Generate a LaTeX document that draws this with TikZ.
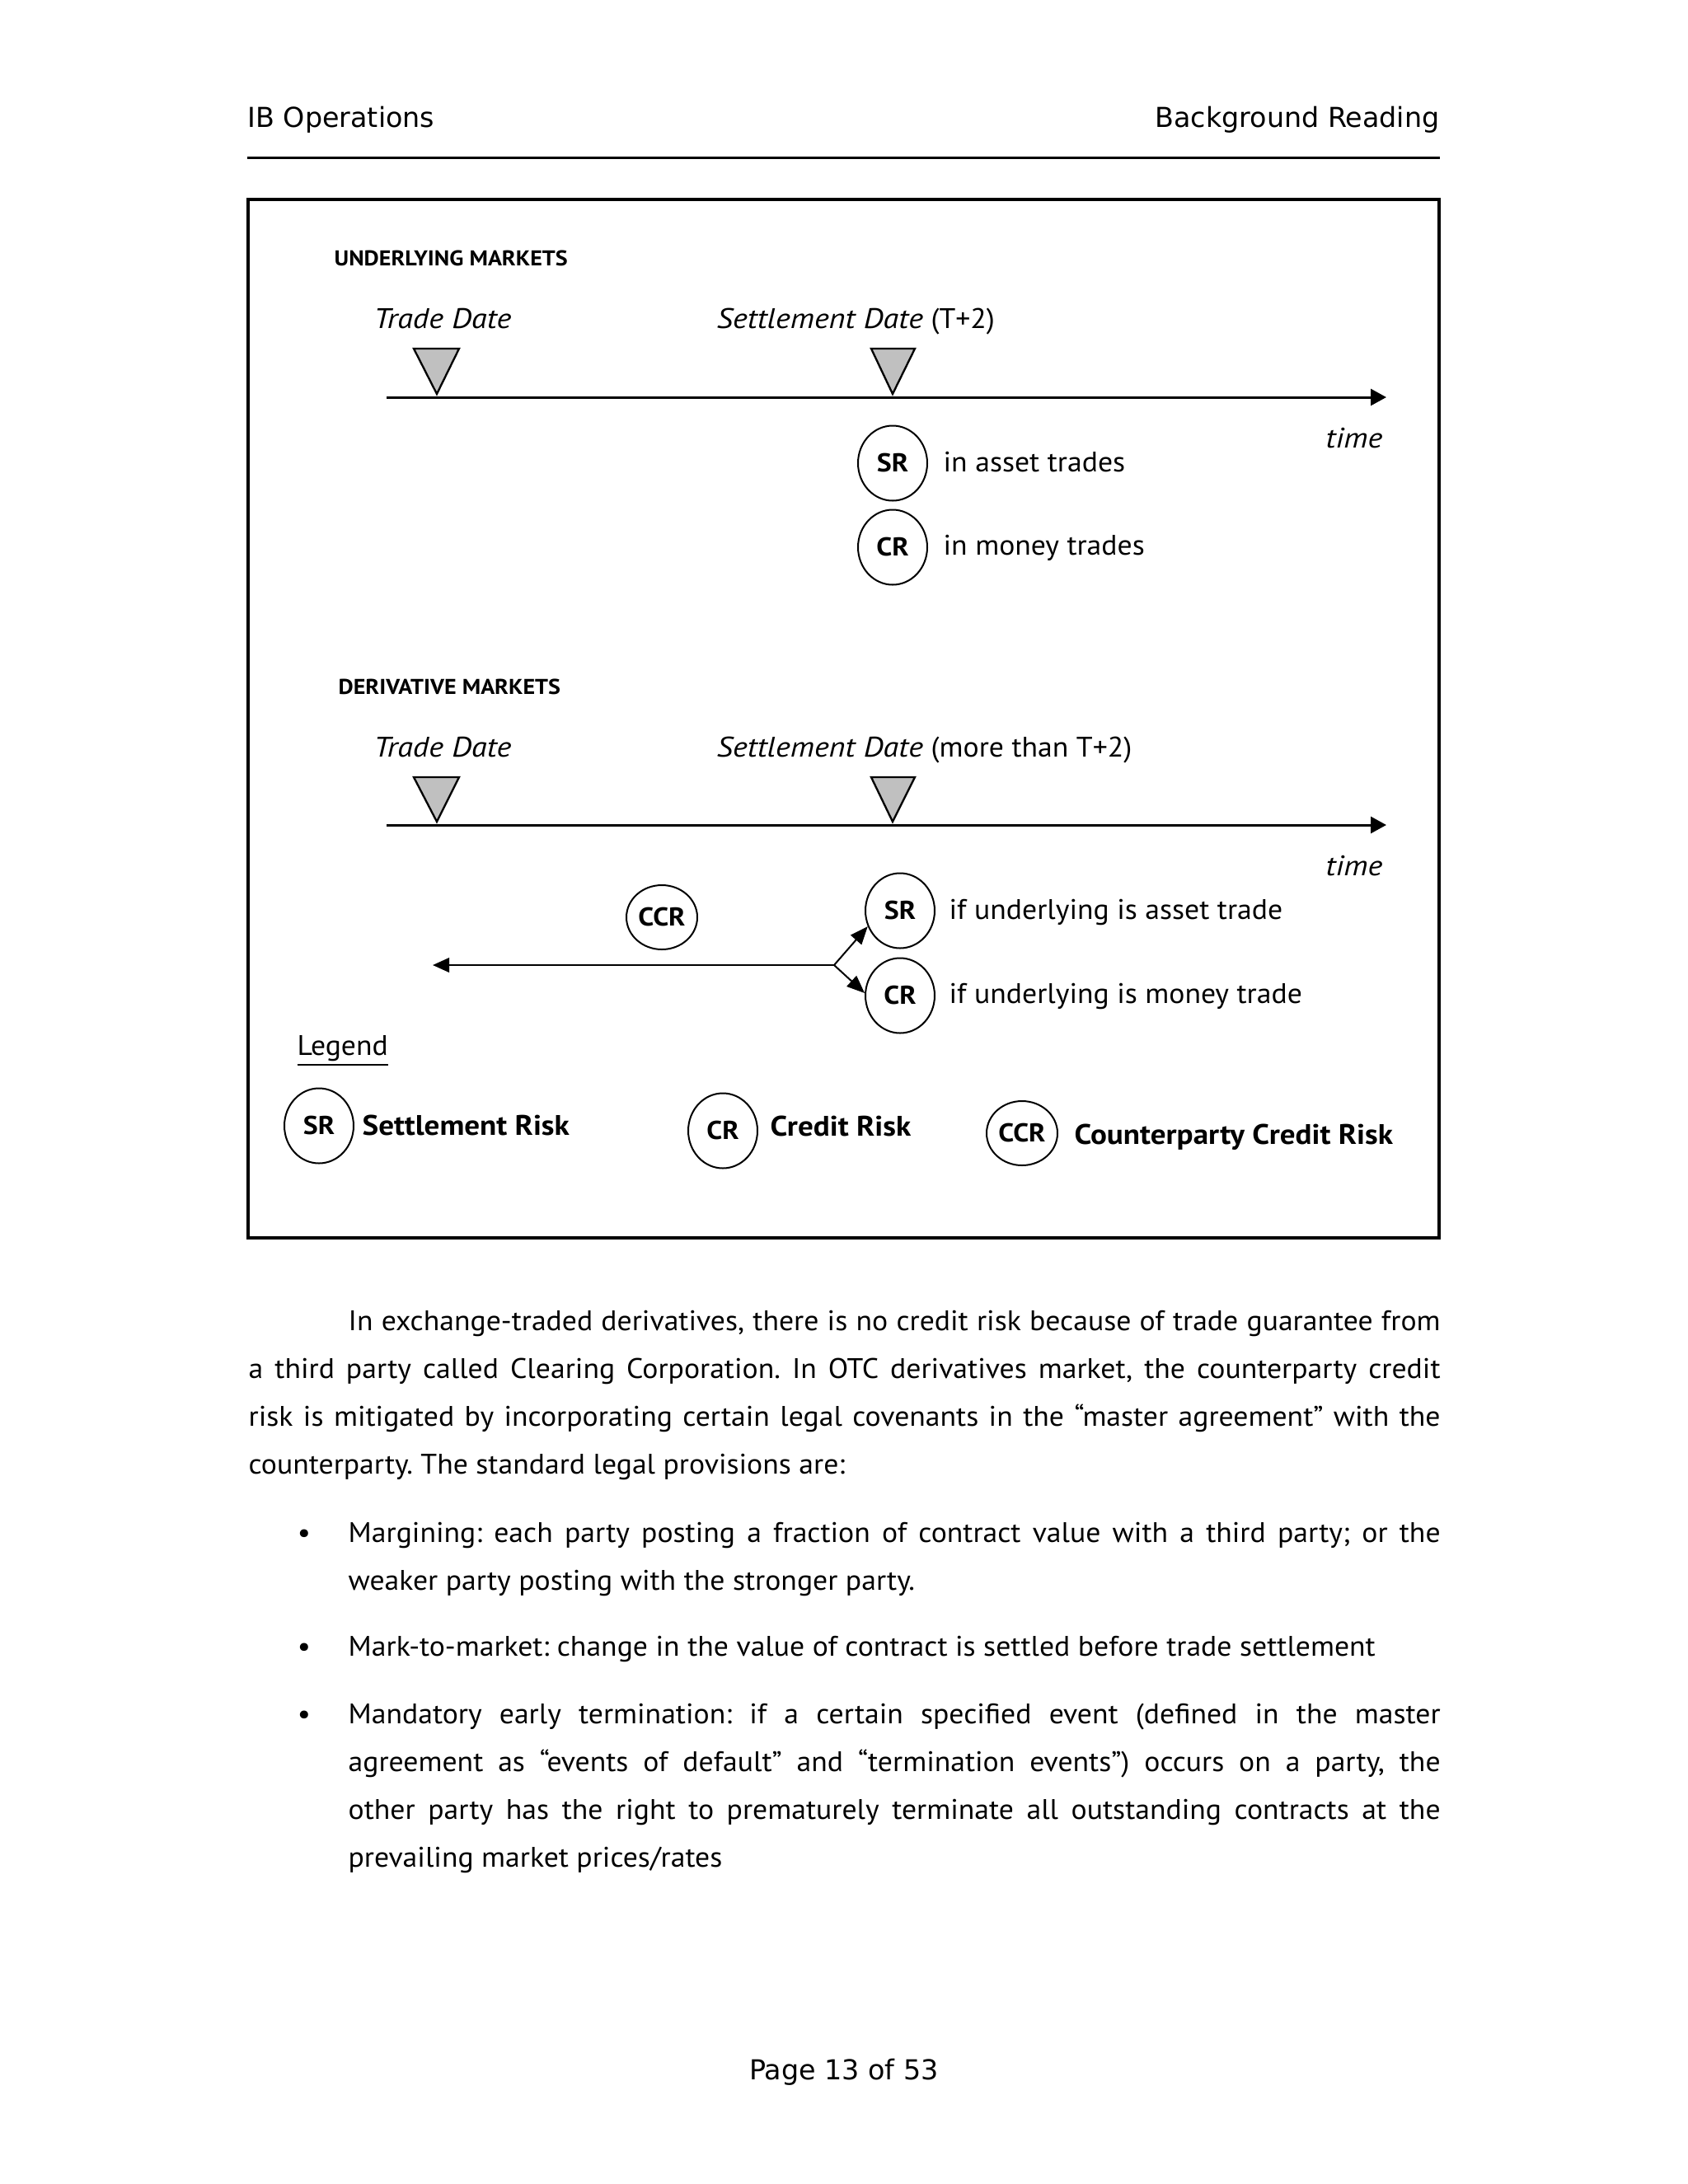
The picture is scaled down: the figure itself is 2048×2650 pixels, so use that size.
\documentclass[tikz,border=0pt]{standalone}
\usepackage{fontspec}
\setmainfont{PT Sans}[FakeStretch=1.04,ItalicFeatures={FakeStretch=1.115},BoldFeatures={FakeStretch=1.08},BoldItalicFeatures={FakeStretch=1.1}]
\newfontfamily\hdf{DejaVu Sans}
\usetikzlibrary{arrows.meta,shapes.geometric}
\begin{document}
\frenchspacing
\begin{tikzpicture}[x=0.3pt,y=-0.3pt,
  txt/.style={anchor=base west,inner sep=0pt,font=\fontsize{10.3}{12}\selectfont},
  itx/.style={txt,font=\itshape\fontsize{10.3}{12}\selectfont},
  btx/.style={txt,font=\bfseries\fontsize{10.3}{12}\selectfont},
  sec/.style={txt,font=\bfseries\fontsize{7.8}{9}\selectfont},
  hdr/.style={inner sep=0pt,font=\hdf\fontsize{10}{12}\selectfont},
  risk/.style={draw,ellipse,line width=0.6pt,minimum width=25.2pt,minimum height=27.3pt,inner sep=0pt,font=\bfseries\fontsize{9.4}{10}\selectfont},
  ccr/.style={risk,minimum width=25.8pt,minimum height=23.4pt},
  tri/.style={draw,fill={rgb,255:red,192;green,192;blue,192},line width=0.7pt,line join=miter},
  tline/.style={line width=0.9pt,-{Triangle[length=5.7pt,width=6pt]}},
  brl/.style={line width=0.6pt,-{Triangle[length=6.5pt,width=5.2pt]}},
  ccrl/.style={line width=0.8pt,-{Triangle[length=6pt,width=5.2pt]}},
  bul/.style={anchor=base,inner sep=0pt,font=\fontsize{10.3}{12}\selectfont}
]
\useasboundingbox (0,0) rectangle (2048,2650);
\fill[white] (0,0) rectangle (2048,2650);

% header
\node[hdr,anchor=base west] (h1) at (300,154) {IB Operations};
\node[hdr,anchor=base east] (h2) at (1747,154) {Background Reading};
\coordinate (hr1) at (300,191);
\coordinate (hr2) at (1747,191);
\draw[line width=0.9pt] (hr1) -- (hr2);

% frame
\draw[line width=1.1pt] (301,242) rectangle (1746,1502);

% underlying markets
\node[sec] (um) at (405,322) {UNDERLYING MARKETS};
\node[itx] (td1) at (453,398) {Trade Date};
\node[txt] (sd1) at (869,398) {\textit{Settlement Date} (T+2)};
\draw[tri] (502,423) -- (557,423) -- (530,478) -- cycle;
\draw[tri] (1057,423) -- (1110,423) -- (1083,478) -- cycle;
\coordinate (t1s) at (469,482);
\coordinate (t1e) at (1682,482);
\draw[tline] (t1s) -- (t1e);
\node[itx,anchor=base east] (time1) at (1678,543) {time};
\node[risk] (sr1) at (1083,562) {SR};
\node[risk] (cr1) at (1083,664) {CR};
\node[txt] (sr1t) at (1144,572) {in asset trades};
\node[txt] (cr1t) at (1144,673) {in money trades};

% derivative markets
\node[sec] (dm) at (410,842) {DERIVATIVE MARKETS};
\node[itx] (td2) at (453,918) {Trade Date};
\node[txt] (sd2) at (869,918) {\textit{Settlement Date} (more than T+2)};
\draw[tri] (502,943) -- (557,943) -- (530,997) -- cycle;
\draw[tri] (1057,943) -- (1110,943) -- (1083,997) -- cycle;
\coordinate (t2s) at (469,1001);
\coordinate (t2e) at (1682,1001);
\draw[tline] (t2s) -- (t2e);
\node[itx,anchor=base east] (time2) at (1678,1062) {time};
\node[ccr] (ccr1) at (803,1113) {CCR};
\node[risk] (sr2) at (1092,1105) {SR};
\node[risk] (cr2) at (1092,1208) {CR};
\node[txt] (sr2t) at (1151,1115) {if underlying is asset trade};
\node[txt] (cr2t) at (1151,1217) {if underlying is money trade};
\coordinate (br) at (1012,1171);
\coordinate (cl) at (525,1171);
\draw[ccrl] (br) -- (cl);
\draw[brl] (br) -- (sr2.206);
\draw[brl] (br) -- (cr2.176);

% legend
\node[txt] (lg) at (360,1280) {\underline{Legend}};
\node[risk] (lsr) at (387,1366) {SR};
\node[btx] (lsrt) at (439,1377) {Settlement Risk};
\node[risk] (lcr) at (877,1372) {CR};
\node[btx] (lcrt) at (934,1378) {Credit Risk};
\node[ccr] (lccr) at (1240,1375) {CCR};
\node[btx] (lccrt) at (1303,1388) {Counterparty Credit Risk};

% body text
\node[txt] (p1) at (422,1614) {\makebox[397.5pt][s]{In exchange-traded derivatives, there is no credit risk because of trade guarantee from}};
\node[txt] (p2) at (301,1672) {\makebox[433.8pt][s]{a third party called Clearing Corporation. In OTC derivatives market, the counterparty credit}};
\node[txt] (p3) at (301,1730) {\makebox[433.8pt][s]{risk is mitigated by incorporating certain legal covenants in the “master agreement” with the}};
\node[txt] (p4) at (301,1788) {counterparty. The standard legal provisions are:};

\node[bul] (b1) at (369,1871) {•};
\node[txt] (b1a) at (422,1871) {\makebox[397.5pt][s]{Margining: each party posting a fraction of contract value with a third party; or the}};
\node[txt] (b1b) at (422,1929) {weaker party posting with the stronger party.};
\node[bul] (b2) at (369,2009) {•};
\node[txt] (b2a) at (422,2009) {Mark-to-market: change in the value of contract is settled before trade settlement};
\node[bul] (b3) at (369,2091) {•};
\node[txt] (b3a) at (422,2091) {\makebox[397.5pt][s]{Mandatory early termination: if a certain specified event (defined in the master}};
\node[txt] (b3b) at (422,2149) {\makebox[397.5pt][s]{agreement as “events of default” and “termination events”) occurs on a party, the}};
\node[txt] (b3c) at (422,2207) {\makebox[397.5pt][s]{other party has the right to prematurely terminate all outstanding contracts at the}};
\node[txt] (b3d) at (422,2265) {prevailing market prices/rates};

% footer
\node[hdr,anchor=base] (ft) at (1024,2523) {Page 13 of 53};
\end{tikzpicture}
\end{document}
